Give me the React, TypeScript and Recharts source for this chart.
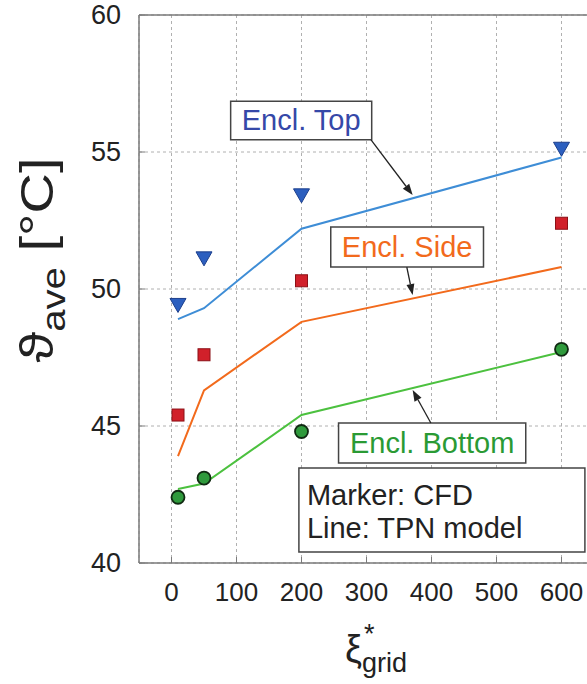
import {
  ComposedChart,
  Line,
  Scatter,
  XAxis,
  YAxis,
  CartesianGrid,
  ReferenceLine,
  ReferenceArea,
} from 'recharts'

const GRID = [10, 50, 200, 600]
const TOP_CFD = [49.4, 51.1, 53.4, 55.1]
const TOP_TPN = [48.9, 49.3, 52.2, 54.8]
const SIDE_CFD = [45.4, 47.6, 50.3, 52.4]
const SIDE_TPN = [43.9, 46.3, 48.8, 50.8]
const BOTTOM_CFD = [42.4, 43.1, 44.8, 47.8]
const BOTTOM_TPN = [42.7, 42.9, 45.4, 47.7]

const X_TICKS = [0, 100, 200, 300, 400, 500, 600]
const Y_TICKS = [40, 45, 50, 55, 60]

const FONT = '"Liberation Sans", Arial, sans-serif'
const AXIS_GRAY = '#7a7a7a'

const data = GRID.map((x, i) => ({
  x,
  topCfd: TOP_CFD[i],
  topTpn: TOP_TPN[i],
  sideCfd: SIDE_CFD[i],
  sideTpn: SIDE_TPN[i],
  bottomCfd: BOTTOM_CFD[i],
  bottomTpn: BOTTOM_TPN[i],
}))

function XTick({ x, y, payload }: any) {
  return (
    <g>
      <line x1={x} y1={y} x2={x} y2={y - 6} stroke={AXIS_GRAY} strokeWidth={1} />
      <text x={x} y={y + 38} textAnchor="middle" fontSize={26} fontFamily={FONT} fill="#222">
        {payload.value}
      </text>
    </g>
  )
}

function YTick({ x, y, payload }: any) {
  return (
    <g>
      <line x1={x} y1={y} x2={x + 6} y2={y} stroke={AXIS_GRAY} strokeWidth={1} />
      <text x={x - 18} y={y + 9} textAnchor="end" fontSize={27} fontFamily={FONT} fill="#222">
        {payload.value}
      </text>
    </g>
  )
}

const triangle = ({ cx, cy }: any) => (
  <path
    d={`M${cx - 8},${cy - 7} L${cx + 8},${cy - 7} L${cx},${cy + 7} Z`}
    fill="#2c5fbf"
    stroke="#1c3f8c"
    strokeWidth={1}
  />
)

const square = ({ cx, cy }: any) => (
  <rect x={cx - 6} y={cy - 6} width={12} height={12} fill="#d1202a" stroke="#8c1016" strokeWidth={1} />
)

const circle = ({ cx, cy }: any) => (
  <circle cx={cx} cy={cy} r={6.5} fill="#2f9a3c" stroke="#102a12" strokeWidth={1.8} />
)

const arrow = (props: any) => {
  const { x1, y1, x2, y2 } = props
  const a = Math.atan2(y2 - y1, x2 - x1)
  const len = 11
  const w = 4
  const bx = x2 - len * Math.cos(a)
  const by = y2 - len * Math.sin(a)
  const px = -Math.sin(a) * w
  const py = Math.cos(a) * w
  return (
    <g>
      <line x1={x1} y1={y1} x2={bx} y2={by} stroke="#222" strokeWidth={1.3} />
      <path d={`M${x2},${y2} L${bx + px},${by + py} L${bx - px},${by - py} Z`} fill="#222" />
    </g>
  )
}

const boxLabel = (text: string, color: string) => (props: any) => {
  const { x, y, width, height } = props.viewBox
  return (
    <text
      x={x + width / 2}
      y={y + height / 2 + 10}
      textAnchor="middle"
      fontSize={29}
      fontFamily={FONT}
      fill={color}
    >
      {text}
    </text>
  )
}

const legendLabel = (props: any) => {
  const { x, y } = props.viewBox
  return (
    <text fontSize={29} fontFamily={FONT} fill="#222">
      <tspan x={x + 8} y={y + 37}>Marker: CFD</tspan>
      <tspan x={x + 8} y={y + 70}>Line: TPN model</tspan>
    </text>
  )
}

const xLabel = () => (
  <text fontFamily={FONT} fill="#222">
    <tspan x={345} y={662} fontSize={38}>ξ</tspan>
    <tspan x={364} y={643} fontSize={27}>*</tspan>
    <tspan x={362} y={672} fontSize={27}>grid</tspan>
  </text>
)

const yLabel = () => (
  <text
    transform="translate(53, 260) rotate(-90)"
    textAnchor="middle"
    fontFamily={FONT}
    fill="#222"
    textLength={205}
    lengthAdjust="spacingAndGlyphs"
  >
    <tspan fontSize={46}>ϑ</tspan>
    <tspan fontSize={33} dy={12}>ave</tspan>
    <tspan fontSize={46} dy={-12}> [°C]</tspan>
  </text>
)

export default function App() {
  return (
    <div style={{ position: 'absolute', top: 0, left: 0, width: 587, height: 684, overflow: 'hidden' }}>
      <style>{'html{overflow:hidden}'}</style>
      <ComposedChart
        width={608}
        height={684}
        data={data}
        margin={{ top: 15, right: 14, bottom: 0, left: 0 }}
      >
        <CartesianGrid stroke="#b0b0b0" strokeDasharray="3 3" />
        <XAxis
          dataKey="x"
          type="number"
          domain={[-50, 650]}
          ticks={X_TICKS}
          height={121}
          tickSize={0}
          tickMargin={0}
          tickLine={false}
          axisLine={{ stroke: AXIS_GRAY, strokeWidth: 1.5 }}
          tick={<XTick />}
          label={{ content: xLabel }}
        />
        <YAxis
          type="number"
          domain={[40, 60]}
          ticks={Y_TICKS}
          width={139}
          tickSize={0}
          tickMargin={0}
          tickLine={false}
          axisLine={{ stroke: AXIS_GRAY, strokeWidth: 1.5 }}
          tick={<YTick />}
          label={{ content: yLabel }}
        />
        <ReferenceLine y={60} stroke={AXIS_GRAY} strokeWidth={1.5} />

        <Line dataKey="topTpn" stroke="#3e8dd6" strokeWidth={2} dot={false} isAnimationActive={false} />
        <Line dataKey="sideTpn" stroke="#f26a1c" strokeWidth={2} dot={false} isAnimationActive={false} />
        <Line dataKey="bottomTpn" stroke="#4cc13f" strokeWidth={2} dot={false} isAnimationActive={false} />
        <Scatter dataKey="topCfd" shape={triangle} isAnimationActive={false} />
        <Scatter dataKey="sideCfd" shape={square} isAnimationActive={false} />
        <Scatter dataKey="bottomCfd" shape={circle} isAnimationActive={false} />

        <ReferenceArea x1={91} x2={308} y1={55.45} y2={56.85} fill="#fff" fillOpacity={1} stroke="#444" strokeWidth={1.5} label={{ content: boxLabel('Encl. Top', '#3548a8') }} />
        <ReferenceArea x1={245} x2={480} y1={50.8} y2={52.26} fill="#fff" fillOpacity={1} stroke="#444" strokeWidth={1.5} label={{ content: boxLabel('Encl. Side', '#f26a1c') }} />
        <ReferenceArea x1={257} x2={545} y1={43.65} y2={45.11} fill="#fff" fillOpacity={1} stroke="#444" strokeWidth={1.5} label={{ content: boxLabel('Encl. Bottom', '#2a9a34') }} />
        <ReferenceArea x1={196} x2={636} y1={40.4} y2={43.47} fill="#fff" fillOpacity={1} stroke="#444" strokeWidth={1.5} label={{ content: legendLabel }} />

        <ReferenceLine segment={[{ x: 307, y: 55.44 }, { x: 371, y: 53.43 }]} shape={arrow} />
        <ReferenceLine segment={[{ x: 362, y: 50.8 }, { x: 371, y: 49.78 }]} shape={arrow} />
        <ReferenceLine segment={[{ x: 399, y: 45.11 }, { x: 371, y: 46.31 }]} shape={arrow} />
      </ComposedChart>
    </div>
  )
}
